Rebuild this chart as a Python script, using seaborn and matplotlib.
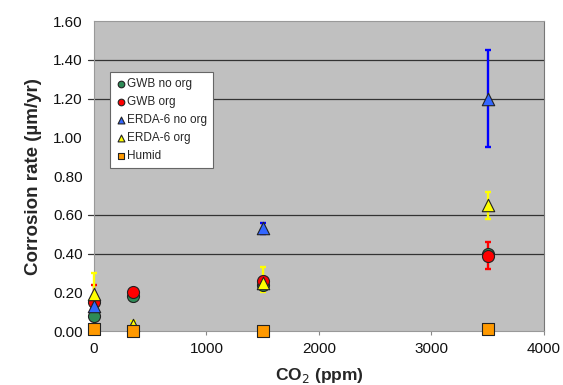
import matplotlib
matplotlib.use("Agg")
import matplotlib.pyplot as plt
import seaborn as sns
import pandas as pd
import numpy as np

sns.set_theme(style="white")
plt.rcParams["font.family"] = ["Liberation Sans", "DejaVu Sans"]

# CO2 levels (ppm)
co2 = [0, 350, 1500, 3500]

series = ["GWB no org", "GWB org", "ERDA-6 no org", "ERDA-6 org", "Humid"]

# mean corrosion rates (µm/yr); None = not measured
gwb_no_org = [0.08, 0.18, 0.24, 0.40]
gwb_org = [0.15, 0.20, 0.26, 0.39]
erda_no_org = [0.13, None, 0.53, 1.20]
erda_org = [0.19, 0.03, 0.25, 0.65]
humid = [0.01, 0.00, 0.00, 0.01]

# error bar extents (lower, upper)
gwb_no_org_err_lo = [0.01, 0.025, 0.01, 0.01]
gwb_no_org_err_hi = [0.01, 0.02, 0.01, 0.01]
gwb_org_err_lo = [0.10, 0.01, 0.02, 0.07]
gwb_org_err_hi = [0.09, 0.01, 0.02, 0.07]
erda_no_org_err_lo = [0.01, 0.0, 0.03, 0.25]
erda_no_org_err_hi = [0.01, 0.0, 0.03, 0.25]
erda_org_err_lo = [0.01, 0.0, 0.05, 0.07]
erda_org_err_hi = [0.11, 0.02, 0.08, 0.07]

grid_levels = [0.40, 0.60, 1.20, 1.40]

values = [gwb_no_org, gwb_org, erda_no_org, erda_org, humid]
err_lo = [gwb_no_org_err_lo, gwb_org_err_lo, erda_no_org_err_lo, erda_org_err_lo, None]
err_hi = [gwb_no_org_err_hi, gwb_org_err_hi, erda_no_org_err_hi, erda_org_err_hi, None]

face = {"GWB no org": "#2e8b57", "GWB org": "#ff0000", "ERDA-6 no org": "#3366ff",
        "ERDA-6 org": "#ffff00", "Humid": "#ff9900"}
errc = {"GWB no org": "#008000", "GWB org": "#ff0000", "ERDA-6 no org": "#0000ff",
        "ERDA-6 org": "#ffff00"}
mark = {"GWB no org": "o", "GWB org": "o", "ERDA-6 no org": "^", "ERDA-6 org": "^", "Humid": "s"}

rows = []
for name, vals in zip(series, values):
    for x, v in zip(co2, vals):
        if v is not None:
            rows.append({"CO2": x, "rate": v, "series": name})
df = pd.DataFrame(rows)

fig = plt.figure(figsize=(5.63, 3.85), dpi=100)
ax = fig.add_axes([0.167, 0.140, 0.799, 0.805])
ax.set_facecolor("#c0c0c0")

for y in grid_levels:
    ax.axhline(y, xmin=-0.014, xmax=1, color="#333333", lw=0.9, clip_on=False, zorder=1)

# error bars (drawn above the spines so bars at CO2 = 0 stay visible)
for name, vals, lo, hi in zip(series, values, err_lo, err_hi):
    if lo is None:
        continue
    xs, ys, l, h = [], [], [], []
    for x, v, a, b in zip(co2, vals, lo, hi):
        if v is None:
            continue
        xs.append(x); ys.append(v); l.append(a); h.append(b)
    eb = ax.errorbar(xs, ys, yerr=[l, h], fmt="none", ecolor=errc[name], elinewidth=1.7,
                     capsize=2.5, capthick=1.7, zorder=2.7)
    for art in eb.lines[1] + eb.lines[2]:
        art.set_clip_on(False)

for name in series:
    sub = df[df["series"] == name]
    size = 75 if mark[name] != "^" else 80
    sns.scatterplot(data=sub, x="CO2", y="rate", ax=ax, marker=mark[name],
                    color=face[name], edgecolor="#222222", linewidth=0.8, s=size,
                    label=name, zorder=3, clip_on=False)

ax.set_xlim(0, 4000)
ax.set_ylim(0, 1.6)
ax.set_xticks([0, 1000, 2000, 3000, 4000])
ax.set_yticks(np.arange(0, 1.61, 0.2))
ax.set_yticklabels([f"{v:.2f}" for v in np.arange(0, 1.61, 0.2)])
ax.tick_params(axis="y", length=0, pad=8, labelsize=11, colors="#111111")
ax.tick_params(axis="x", length=3, width=0.8, color="#888888", direction="out",
               pad=5, labelsize=11, labelcolor="#111111", bottom=True)

for s in ax.spines.values():
    s.set_color("#999999")
    s.set_linewidth(0.8)
ax.spines["right"].set_color("#777777")

ax.set_xlabel("CO$_2$ (ppm)", fontsize=12.5, fontweight="bold", labelpad=7)
ax.set_ylabel("Corrosion rate (µm/yr)", fontsize=13.5, fontweight="bold", labelpad=8)

leg = ax.legend(loc="upper left", bbox_to_anchor=(0.036, 0.835), frameon=True,
                fancybox=False, fontsize=8.5, markerscale=0.55, handletextpad=0.05,
                handlelength=0.9, borderpad=0.5, labelspacing=0.5,
                borderaxespad=0)
leg.get_frame().set_edgecolor("#666666")
leg.get_frame().set_facecolor("white")
leg.get_frame().set_alpha(1)
leg.get_frame().set_linewidth(0.8)
leg.set_zorder(5)

fig.savefig("out.png", dpi=100)
